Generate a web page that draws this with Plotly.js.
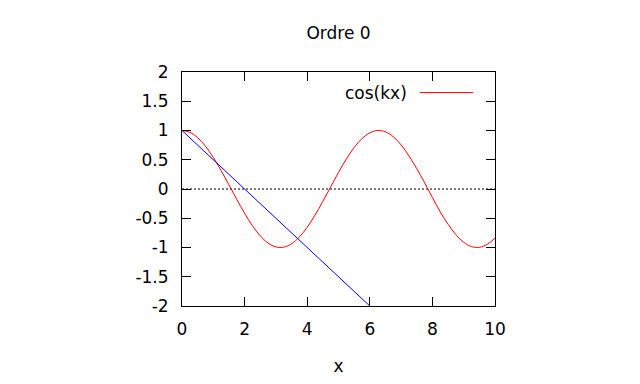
<!DOCTYPE html>
<html>
<head>
<meta charset="utf-8">
<script src="https://cdn.plot.ly/plotly-3.0.1.min.js"></script>
<style>html,body{margin:0;padding:0;background:#fff;}#chart{width:640px;height:384px;}</style>
</head>
<body>
<div id="chart"></div>
<script>
// Red curve: cos(kx)
const cosX = [0,0.25,0.5,0.75,1,1.25,1.5,1.75,2,2.25,2.5,2.75,3,3.25,3.5,3.75,4,4.25,4.5,4.75,5,5.25,5.5,5.75,6,6.25,6.5,6.75,7,7.25,7.5,7.75,8,8.25,8.5,8.75,9,9.25,9.5,9.75,10];
const cosY = [1,0.969,0.878,0.732,0.540,0.315,0.071,-0.178,-0.416,-0.628,-0.801,-0.924,-0.990,-0.994,-0.936,-0.820,-0.654,-0.446,-0.211,0.037,0.284,0.512,0.709,0.861,0.960,1.000,0.977,0.894,0.754,0.566,0.347,0.108,-0.146,-0.390,-0.602,-0.781,-0.911,-0.985,-0.997,-0.947,-0.839];
const cosName = "cos(kx)";
// Blue line (order 0 approximation)
const lineX = [0, 6];
const lineY = [1, -2];
// Dotted zero line
const zeroX = [0, 10];
const zeroY = [0, 0];
// Ticks
const xTicks = [0,2,4,6,8,10];
const yTicks = [-2,-1.5,-1,-0.5,0,0.5,1,1.5,2];
const titleText = "Ordre 0";
const xLabel = "x";

const fam = "DejaVu Sans";
const mkFont = () => ({family: fam, size: 17, color: "#000"});

const traces = [
  {x: zeroX, y: zeroY, mode: "lines", line: {color: "#000", width: 1, dash: "2px,2px"}, showlegend: false, hoverinfo: "skip"},
  {x: cosX, y: cosY, mode: "lines", name: cosName, line: {color: "#ff0000", width: 1, shape: "spline"}, showlegend: false},
  {x: lineX, y: lineY, mode: "lines", line: {color: "#0000ff", width: 1}, showlegend: false}
];

const axisCommon = () => ({
  showline: true, linecolor: "#000", linewidth: 1, mirror: "ticks",
  ticks: "inside", ticklen: 9, tickwidth: 1, tickcolor: "#000",
  showgrid: false, zeroline: false, tickfont: mkFont()
});

const layout = {
  width: 640, height: 384,
  margin: {l: 182, r: 145, t: 72, b: 78, pad: 0},
  paper_bgcolor: "#fff", plot_bgcolor: "#fff",
  font: mkFont(),
  title: {text: titleText, font: mkFont(), x: 0.529, xanchor: "center", y: 1 - 33/384, yanchor: "middle", yref: "container"},
  xaxis: Object.assign(axisCommon(), {range: [0, 10], tickvals: xTicks, ticktext: xTicks.map(String), ticklabelstandoff: 8, title: {text: xLabel, font: mkFont(), standoff: 21}}),
  yaxis: Object.assign(axisCommon(), {range: [-2, 2], tickvals: yTicks, ticktext: yTicks.map(String), ticklabelstandoff: 9}),
  annotations: [
    {text: cosName, xref: "paper", yref: "paper", x: 0.725, y: 0.912, xanchor: "right", yanchor: "middle", showarrow: false, font: mkFont()}
  ],
  shapes: [
    {type: "line", xref: "paper", yref: "paper", x0: 0.760, x1: 0.930, y0: 0.912, y1: 0.912, line: {color: "#ff0000", width: 1}}
  ],
  showlegend: false
};

Plotly.newPlot("chart", traces, layout, {staticPlot: true, displayModeBar: false});
</script>
</body>
</html>
